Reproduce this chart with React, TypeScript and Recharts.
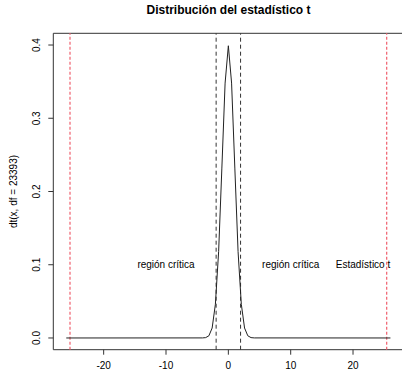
import { LineChart, Line, XAxis, YAxis, ReferenceLine, ReferenceArea, ReferenceDot } from 'recharts'

const tX = [-26, -4.16, -3.64, -3.12, -2.6, -2.08, -1.56, -1.04, -0.52, 0, 0.52, 1.04, 1.56, 2.08, 2.6, 3.12, 3.64, 4.16, 26]
const tDens = [0, 0.0001, 0.0005, 0.003, 0.0136, 0.046, 0.118, 0.232, 0.348, 0.399, 0.348, 0.232, 0.118, 0.046, 0.0136, 0.003, 0.0005, 0.0001, 0]

const xTicks = [-20, -10, 0, 10, 20]
const yTicks = [0, 0.1, 0.2, 0.3, 0.4]
const critX = [-1.96, 1.96]
const statX = [-25.4, 25.4]
const noteX = [-10, 10, 21.6]
const noteY = [0.1, 0.1, 0.1]
const noteText = ['región crítica', 'región crítica', 'Estadístico t']

const FONT = '"Liberation Sans", Arial, Helvetica, sans-serif'
const X_DOM: [number, number] = [-28.08, 28.08]
const Y_DOM: [number, number] = [-0.016, 0.416]

const data = tX.map((x, i) => ({ x, y: tDens[i] }))

function YTick(props: any) {
  const { x, y, payload } = props
  const bx = x - 6
  return (
    <text x={bx} y={y} transform={`rotate(-90, ${bx}, ${y})`} textAnchor="middle"
      fontSize={10} fontFamily={FONT} fill="#000">
      {Number(payload.value).toFixed(1)}
    </text>
  )
}

export default function App() {
  return (
    <div style={{ position: 'relative', width: 402, height: 372, overflow: 'hidden', fontFamily: FONT }}>
      <style>{'body{margin:0}'}</style>
      <div style={{
        position: 'absolute', top: 3, left: 0, width: 457, textAlign: 'center',
        fontWeight: 'bold', fontSize: 12, color: '#000',
      }}>
        Distribución del estadístico t
      </div>
      <LineChart width={420} height={372} data={data}
        margin={{ top: 33.3, right: 16.6, bottom: 0, left: 0 }}>
        <XAxis type="number" dataKey="x" domain={X_DOM} ticks={xTicks} allowDataOverflow
          height={22.3} tickSize={5} tickMargin={7} axisLine={false}
          tickLine={{ stroke: '#333' }} tick={{ fontSize: 10, fontFamily: FONT, fill: '#000' }} />
        <YAxis type="number" domain={Y_DOM} ticks={yTicks} allowDataOverflow width={53.3}
          tickSize={5} axisLine={false} tickLine={{ stroke: '#333' }} tick={<YTick />}
          label={{
            content: (p: any) => {
              const vb = p.viewBox || { y: 33.3, height: 316.4 }
              const cy = vb.y + vb.height / 2
              return (
                <text x={17} y={cy} transform={`rotate(-90, 17, ${cy})`} textAnchor="middle"
                  fontSize={10} fontFamily={FONT} fill="#000">dt(x, df = 23393)</text>
              )
            },
          }} />
        <ReferenceArea x1={X_DOM[0]} x2={X_DOM[1]} y1={Y_DOM[0]} y2={Y_DOM[1]}
          fill="none" stroke="#333" strokeWidth={1} ifOverflow="visible" />
        {critX.map((v) => (
          <ReferenceLine key={'c' + v} x={v} stroke="#333" strokeDasharray="4 3" />
        ))}
        {statX.map((v) => (
          <ReferenceLine key={'s' + v} x={v} stroke="#f0606e" strokeWidth={1.2} strokeDasharray="3 2" />
        ))}
        <Line type="linear" dataKey="y" stroke="#222" strokeWidth={1} dot={false} isAnimationActive={false} />
        {noteX.map((v, i) => (
          <ReferenceDot key={'n' + i} x={v} y={noteY[i]} r={1} fillOpacity={0} strokeOpacity={0}
            label={{ value: noteText[i], position: 'center', fontSize: 10, fontFamily: FONT, fill: '#000' }} />
        ))}
      </LineChart>
    </div>
  )
}
